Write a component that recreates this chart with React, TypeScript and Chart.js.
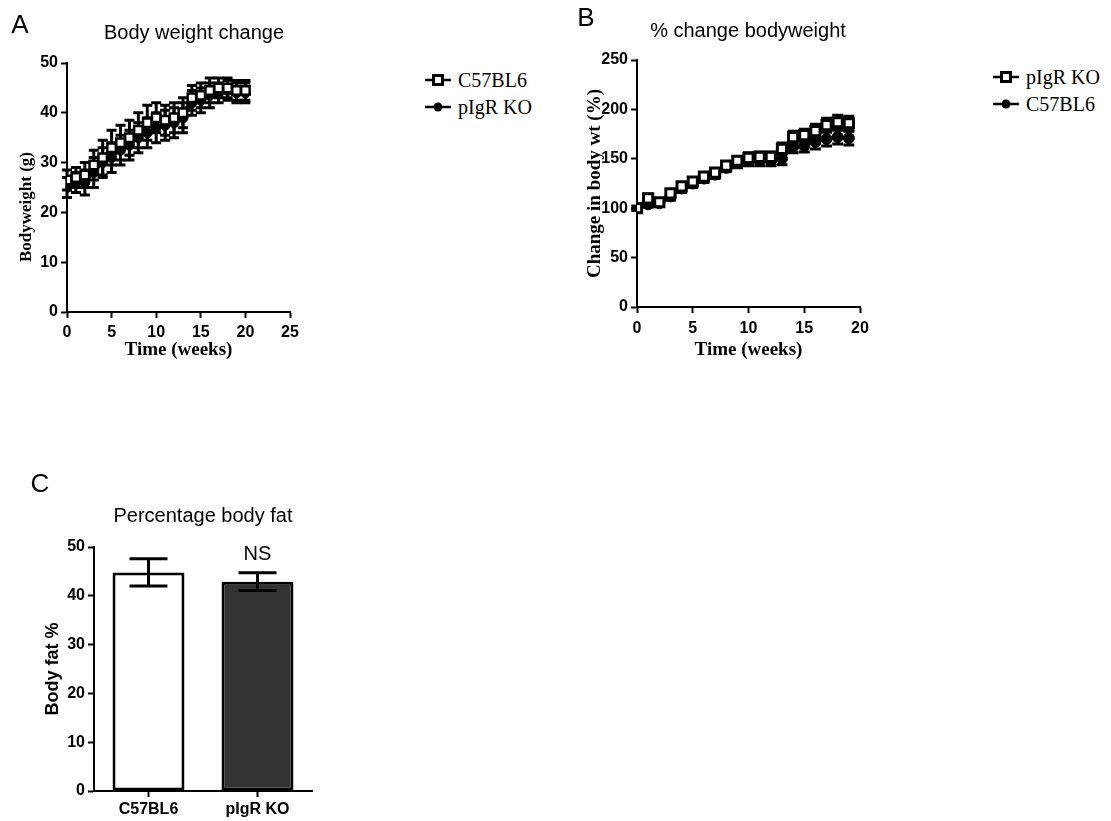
import React, { useEffect, useRef } from 'react';
import { Chart, registerables } from 'chart.js';

Chart.register(...registerables);

const SANS = '"Liberation Sans", Arial, Helvetica, sans-serif';
const SERIF = '"Liberation Serif", "Times New Roman", Times, serif';

// ---------- Panel A: body weight (g) ----------
const weeksA = [0, 1, 2, 3, 4, 5, 6, 7, 8, 9, 10, 11, 12, 13, 14, 15, 16, 17, 18, 19, 20];
const weightC57 = [26.5, 27, 27.5, 29.5, 31, 33, 34, 35, 36.5, 38, 39, 38.5, 39, 40, 43, 43.5, 44.5, 45, 45, 44.5, 44.5];
const weightC57Err = [2, 2, 2.5, 3, 3.5, 3.5, 3.5, 3.5, 3.5, 3.5, 3, 3, 3, 3, 2.5, 2.5, 2.5, 2, 2, 2, 2];
const weightKO = [25, 26, 26, 28, 30, 31, 32.5, 33.5, 35, 36, 37, 37.5, 38, 39, 42, 42.5, 43.5, 44, 44.5, 44, 44];
const weightKOErr = [2, 2, 2.5, 3, 3, 3, 3, 3, 3, 3, 3, 3, 3, 3, 2.5, 2.5, 2.5, 2, 2, 2, 2];
const xTicksA = { min: 0, max: 25, step: 5 };
const yTicksA = { min: 0, max: 50, step: 10 };

// ---------- Panel B: % change bodyweight ----------
const weeksB = [0, 1, 2, 3, 4, 5, 6, 7, 8, 9, 10, 11, 12, 13, 14, 15, 16, 17, 18, 19];
const pctKO = [100, 110, 106, 115, 122, 127, 132, 136, 143, 148, 151, 152, 152, 160, 172, 174, 178, 184, 187, 186];
const pctKOErr = [2, 4, 3, 4, 4, 4, 4, 4, 4, 4, 5, 5, 5, 6, 6, 6, 7, 7, 7, 7];
const pctC57 = [100, 104, 105, 112, 120, 125, 130, 134, 141, 146, 148, 148, 148, 150, 162, 163, 167, 170, 172, 171];
const pctC57Err = [2, 3, 3, 4, 4, 4, 4, 4, 4, 5, 5, 5, 5, 6, 6, 6, 7, 7, 7, 7];
const xTicksB = { min: 0, max: 20, step: 5 };
const yTicksB = { min: 0, max: 250, step: 50 };

// ---------- Panel C: percentage body fat ----------
const fatGroups = ['C57BL6', 'pIgR KO'];
const fatValues = [44.8, 42.9];
const fatErrors = [2.8, 1.8];
const fatSignificance = ['', 'NS'];
const yTicksC = { min: 0, max: 50, step: 10 };

// ---------- plugins ----------
function drawErrors(chart: any, opts: any) {
  const ctx = chart.ctx;
  const yScale = chart.scales.y;
  chart.data.datasets.forEach((ds: any, di: number) => {
    const meta = chart.getDatasetMeta(di);
    if (!ds.errors || meta.hidden) return;
    ctx.save();
    ctx.strokeStyle = opts.color || '#000';
    ctx.lineWidth = opts.lineWidth || 2;
    ctx.lineCap = 'butt';
    const half = (opts.capWidth || 8) / 2;
    meta.data.forEach((el: any, i: number) => {
      const raw = ds.data[i];
      const v = typeof raw === 'number' ? raw : raw.y;
      const e = ds.errors[i];
      const x = el.x;
      const yTop = yScale.getPixelForValue(v + e);
      const yBot = yScale.getPixelForValue(v - e);
      ctx.beginPath();
      ctx.moveTo(x, yTop);
      ctx.lineTo(x, yBot);
      ctx.moveTo(x - half, yTop);
      ctx.lineTo(x + half, yTop);
      ctx.moveTo(x - half, yBot);
      ctx.lineTo(x + half, yBot);
      ctx.stroke();
    });
    ctx.restore();
  });
}

const errorBarPlugin = {
  id: 'errorBars',
  beforeDatasetsDraw(chart: any, _a: any, opts: any) {
    if (opts && opts.layer === 'before') drawErrors(chart, opts);
  },
  afterDatasetsDraw(chart: any, _a: any, opts: any) {
    if (opts && opts.layer === 'after') drawErrors(chart, opts);
  },
};

const sigLabelPlugin = {
  id: 'sigLabels',
  afterDatasetsDraw(chart: any, _a: any, opts: any) {
    if (!opts || !opts.labels) return;
    const ctx = chart.ctx;
    const ds = chart.data.datasets[0];
    const meta = chart.getDatasetMeta(0);
    const yScale = chart.scales.y;
    ctx.save();
    ctx.fillStyle = '#000';
    ctx.font = opts.font;
    ctx.textAlign = 'center';
    ctx.textBaseline = 'alphabetic';
    opts.labels.forEach((t: string, i: number) => {
      if (!t) return;
      const top = yScale.getPixelForValue(ds.data[i] + (ds.errors ? ds.errors[i] : 0));
      ctx.fillText(t, meta.data[i].x, top - opts.gap);
    });
    ctx.restore();
  },
};

// ---------- helpers ----------
const tickFont = (size: number) => ({ family: SANS, size, weight: 'bold' as const });

function axis(kind: 'x' | 'y', range: any, fixed: number, title: any, fontSize: number, tickPad = 3) {
  return {
    type: 'linear',
    min: range.min,
    max: range.max,
    ticks: { stepSize: range.step, color: '#000', font: tickFont(fontSize), padding: tickPad },
    grid: {
      display: true,
      drawOnChartArea: false,
      drawTicks: true,
      tickLength: 6,
      tickWidth: 2,
      tickColor: '#000',
    },
    border: { display: true, color: '#000', width: 2 },
    title,
    afterFit: (s: any) => {
      if (kind === 'y') s.width = fixed;
      else s.height = fixed;
    },
  };
}

function pts(xs: number[], ys: number[]) {
  return xs.map((x, i) => ({ x, y: ys[i] }));
}

function useChart(ref: React.RefObject<HTMLCanvasElement>, makeConfig: () => any) {
  useEffect(() => {
    if (!ref.current) return;
    const chart = new Chart(ref.current, makeConfig());
    return () => chart.destroy();
  }, []);
}

function ChartA() {
  const ref = useRef<HTMLCanvasElement>(null);
  useChart(ref, () => ({
    type: 'line',
    data: {
      datasets: [
        {
          label: 'C57BL6',
          data: pts(weeksA, weightC57),
          errors: weightC57Err,
          borderColor: '#000',
          borderWidth: 2.5,
          pointStyle: 'rect',
          pointRadius: 6,
          pointBackgroundColor: '#fff',
          pointBorderColor: '#000',
          pointBorderWidth: 2.5,
        },
        {
          label: 'pIgR KO',
          data: pts(weeksA, weightKO),
          errors: weightKOErr,
          borderColor: '#000',
          borderWidth: 2.5,
          pointStyle: 'circle',
          pointRadius: 5,
          pointBackgroundColor: '#000',
          pointBorderColor: '#000',
          pointBorderWidth: 1,
        },
      ],
    },
    options: {
      responsive: false,
      animation: false,
      layout: { padding: { left: 0, top: 63, right: 30, bottom: 0 } },
      plugins: {
        legend: { display: false },
        title: { display: false },
        tooltip: { enabled: false },
        errorBars: { layer: 'before', lineWidth: 3, capWidth: 10, color: '#000' },
      },
      scales: {
        x: axis('x', xTicksA, 68, {
          display: true,
          text: 'Time (weeks)',
          color: '#000',
          font: { family: SERIF, size: 19, weight: 'bold' },
          padding: { top: 0, bottom: 19 },
        }, 16, 5),
        y: axis('y', yTicksA, 67, { display: false }, 16),
      },
    },
    plugins: [errorBarPlugin],
  }));
  return <canvas ref={ref} width={320} height={380} style={{ position: 'absolute', left: 0, top: 0 }} />;
}

function ChartB() {
  const ref = useRef<HTMLCanvasElement>(null);
  useChart(ref, () => ({
    type: 'line',
    data: {
      datasets: [
        {
          label: 'pIgR KO',
          data: pts(weeksB, pctKO),
          errors: pctKOErr,
          borderColor: '#000',
          borderWidth: 2.5,
          pointStyle: 'rect',
          pointRadius: 6.5,
          pointBackgroundColor: '#fff',
          pointBorderColor: '#000',
          pointBorderWidth: 3,
        },
        {
          label: 'C57BL6',
          data: pts(weeksB, pctC57),
          errors: pctC57Err,
          borderColor: '#000',
          borderWidth: 2.5,
          pointStyle: 'circle',
          pointRadius: 5.5,
          pointBackgroundColor: '#000',
          pointBorderColor: '#000',
          pointBorderWidth: 1,
        },
      ],
    },
    options: {
      responsive: false,
      animation: false,
      layout: { padding: { left: 0, top: 60, right: 30, bottom: 0 } },
      plugins: {
        legend: { display: false },
        title: { display: false },
        tooltip: { enabled: false },
        errorBars: { layer: 'before', lineWidth: 3, capWidth: 11, color: '#000' },
      },
      scales: {
        x: axis('x', xTicksB, 73, {
          display: true,
          text: 'Time (weeks)',
          color: '#000',
          font: { family: SERIF, size: 19, weight: 'bold' },
          padding: { top: 0, bottom: 19 },
        }, 16, 6),
        y: axis('y', yTicksB, 67, {
          display: true,
          text: 'Change in body wt (%)',
          color: '#000',
          font: { family: SERIF, size: 19, weight: 'bold' },
          padding: { top: 14, bottom: 0 },
        }, 16),
      },
    },
    plugins: [errorBarPlugin],
  }));
  return <canvas ref={ref} width={320} height={380} style={{ position: 'absolute', left: 570, top: 0 }} />;
}

function ChartC() {
  const ref = useRef<HTMLCanvasElement>(null);
  useChart(ref, () => {
    const y = axis('y', yTicksC, 94, {
      display: true,
      text: 'Body fat %',
      color: '#000',
      font: { family: SANS, size: 18, weight: 'bold' },
      padding: { top: 42, bottom: 0 },
    }, 16);
    return {
      type: 'bar',
      data: {
        labels: fatGroups,
        datasets: [
          {
            label: 'Body fat %',
            data: fatValues,
            errors: fatErrors,
            backgroundColor: ['#ffffff', '#333333'],
            borderColor: '#000',
            borderWidth: 3,
            borderSkipped: false,
            barPercentage: 0.66,
            categoryPercentage: 1,
          },
        ],
      },
      options: {
        responsive: false,
        animation: false,
        layout: { padding: { left: 0, top: 87, right: 18, bottom: 0 } },
        plugins: {
          legend: { display: false },
          title: { display: false },
          tooltip: { enabled: false },
          errorBars: { layer: 'after', lineWidth: 3, capWidth: 38, color: '#000' },
          sigLabels: { labels: fatSignificance, font: `20px ${SANS}`, gap: 13 },
        },
        scales: {
          x: {
            type: 'category',
            ticks: { color: '#000', font: tickFont(16), padding: 3 },
            grid: {
              display: true,
              offset: false,
              drawOnChartArea: false,
              drawTicks: true,
              tickLength: 6,
              tickWidth: 2,
              tickColor: '#000',
            },
            border: { display: true, color: '#000', width: 2 },
            afterFit: (s: any) => {
              s.height = 30;
            },
          },
          y,
        },
      },
      plugins: [errorBarPlugin, sigLabelPlugin],
    };
  });
  return <canvas ref={ref} width={330} height={361} style={{ position: 'absolute', left: 0, top: 460 }} />;
}

function Txt(props: { x: number; y: number; size: number; family?: string; weight?: string; rotate?: number; children: any }) {
  const { x, y, size, family = SANS, weight = 'normal', rotate, children } = props;
  return (
    <div
      style={{
        position: 'absolute',
        left: x,
        top: y,
        transform: `translate(-50%, -50%)${rotate ? ` rotate(${rotate}deg)` : ''}`,
        font: `${weight} ${size}px ${family}`,
        lineHeight: 1,
        whiteSpace: 'nowrap',
        color: '#000',
      }}
    >
      {children}
    </div>
  );
}

function LegendItem(props: { x: number; y: number; label: string; marker: 'square' | 'circle' }) {
  const { x, y, label, marker } = props;
  return (
    <div style={{ position: 'absolute', left: x, top: y - 14, height: 28, display: 'flex', alignItems: 'center' }}>
      <svg width={26} height={14} style={{ display: 'block' }}>
        <line x1={0} y1={7} x2={26} y2={7} stroke="#000" strokeWidth={2.5} />
        {marker === 'square' ? (
          <rect x={8.5} y={2.5} width={9} height={9} fill="#fff" stroke="#000" strokeWidth={3} />
        ) : (
          <circle cx={13} cy={7} r={4.5} fill="#000" />
        )}
      </svg>
      <span style={{ marginLeft: 7, font: `20px ${SERIF}`, lineHeight: 1, color: '#000', whiteSpace: 'nowrap' }}>{label}</span>
    </div>
  );
}

export default function App() {
  return (
    <div style={{ position: 'absolute', left: 0, top: 0, width: 1111, height: 821, background: '#fff', overflow: 'hidden' }}>
      <ChartA />
      <ChartB />
      <ChartC />

      <Txt x={20} y={24} size={26}>A</Txt>
      <Txt x={194} y={32} size={20}>Body weight change</Txt>
      <Txt x={25} y={207} size={17} family={SERIF} weight="bold" rotate={-90}>Bodyweight (g)</Txt>
      <LegendItem x={425} y={80} label="C57BL6" marker="square" />
      <LegendItem x={425} y={107} label="pIgR KO" marker="circle" />

      <Txt x={586} y={17} size={26}>B</Txt>
      <Txt x={748} y={30} size={20}>% change bodyweight</Txt>
      <LegendItem x={993} y={77} label="pIgR KO" marker="square" />
      <LegendItem x={993} y={104} label="C57BL6" marker="circle" />

      <Txt x={40} y={483} size={26}>C</Txt>
      <Txt x={203} y={515} size={20}>Percentage body fat</Txt>
    </div>
  );
}
